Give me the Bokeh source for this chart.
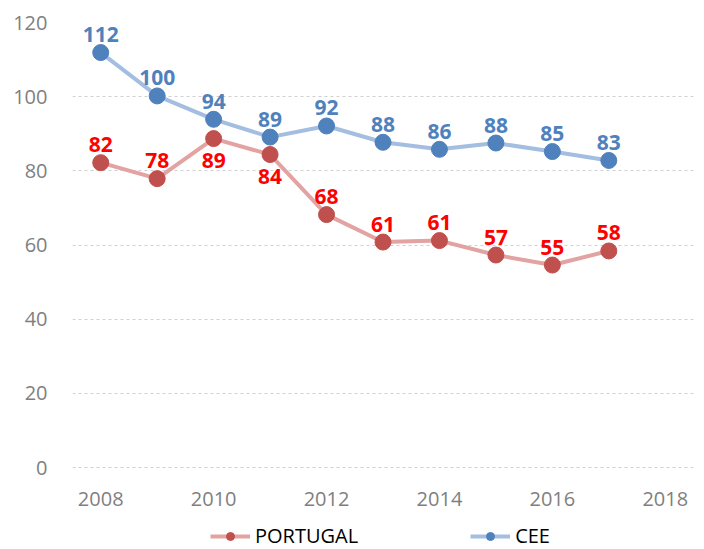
from bokeh.plotting import figure
from bokeh.models import Range1d, Legend, LegendItem, FixedTicker, ColumnDataSource
from bokeh.core.properties import value
from bokeh.embed import file_html
from bokeh.resources import INLINE

years = [2008, 2009, 2010, 2011, 2012, 2013, 2014, 2015, 2016, 2017]
portugal = [82.2, 77.9, 88.7, 84.4, 68.2, 60.8, 61.2, 57.3, 54.6, 58.4]
cee = [111.9, 100.2, 93.9, 89.1, 92.1, 87.7, 85.8, 87.5, 85.2, 82.8]
portugal_label_pos = ["above", "above", "below", "below", "above", "above", "above", "above", "above", "above"]
cee_label_pos = ["above"] * 10
x_ticks = [2008, 2010, 2012, 2014, 2016, 2018]
y_ticks = [0, 20, 40, 60, 80, 100, 120]

FONT = "Open Sans"

# frame extends below the 0 line so the legend can sit inside it at the bottom
p = figure(width=704, height=549, output_backend="svg", toolbar_location=None,
           x_axis_location=None,
           x_range=Range1d(2007.5, 2018.5), y_range=Range1d(-22.1, 120),
           min_border_left=72, min_border_right=11, min_border_top=22, min_border_bottom=0)
p.outline_line_color = None
p.background_fill_color = "white"
p.border_fill_color = "white"

p.xgrid.grid_line_color = None
p.yaxis.ticker = FixedTicker(ticks=y_ticks)
p.ygrid.grid_line_color = "#D0D0D0"
p.ygrid.grid_line_dash = "3 3"
p.ygrid.grid_line_width = 1

ax = p.yaxis[0]
ax.axis_line_color = None
ax.major_tick_line_color = None
ax.minor_tick_line_color = None
ax.major_label_text_font = FONT
ax.major_label_text_font_size = "20px"
ax.major_label_text_color = "#7F7F7F"
ax.major_label_standoff = 19

# x tick labels placed under the 0 line
p.text(x=x_ticks, y=[0] * len(x_ticks), text=[str(t) for t in x_ticks],
       y_offset=31, text_align="center", text_baseline="middle",
       text_font=value(FONT), text_font_size="20px", text_color="#7F7F7F")

def series(xs, ys, line_color, marker_color):
    l = p.line(xs, ys, line_color=line_color, line_width=4)
    s = p.scatter(xs, ys, size=16, fill_color=marker_color, line_color=marker_color)
    return [l, s]

pt_r = series(years, portugal, "#E2A3A2", "#C0504D")
cee_r = series(years, cee, "#A3BEE0", "#4F81BD")

def labels(xs, ys, pos, color):
    src = ColumnDataSource(dict(
        x=xs, y=ys, t=[str(round(v)) for v in ys],
        dy=[-18 if q == "above" else 22 for q in pos]))
    p.text("x", "y", text="t", source=src, y_offset="dy", text_align="center",
           text_baseline="middle", text_font=value(FONT), text_font_style="bold",
           text_font_size="21px", text_color=color)

labels(years, cee, cee_label_pos, "#4F81BD")
labels(years, portugal, portugal_label_pos, "#FF0000")

legend = Legend(items=[LegendItem(label="PORTUGAL", renderers=pt_r),
                       LegendItem(label="CEE", renderers=cee_r)],
                orientation="horizontal", location=(138, 0),
                glyph_width=40, glyph_height=20, label_height=20, label_standoff=5, spacing=112,
                padding=0, margin=0, border_line_color=None,
                background_fill_alpha=0,
                label_text_font=FONT, label_text_font_size="20px", label_text_color="#000000")
p.add_layout(legend, "center")

open("out.html", "w").write(file_html(p, INLINE))
